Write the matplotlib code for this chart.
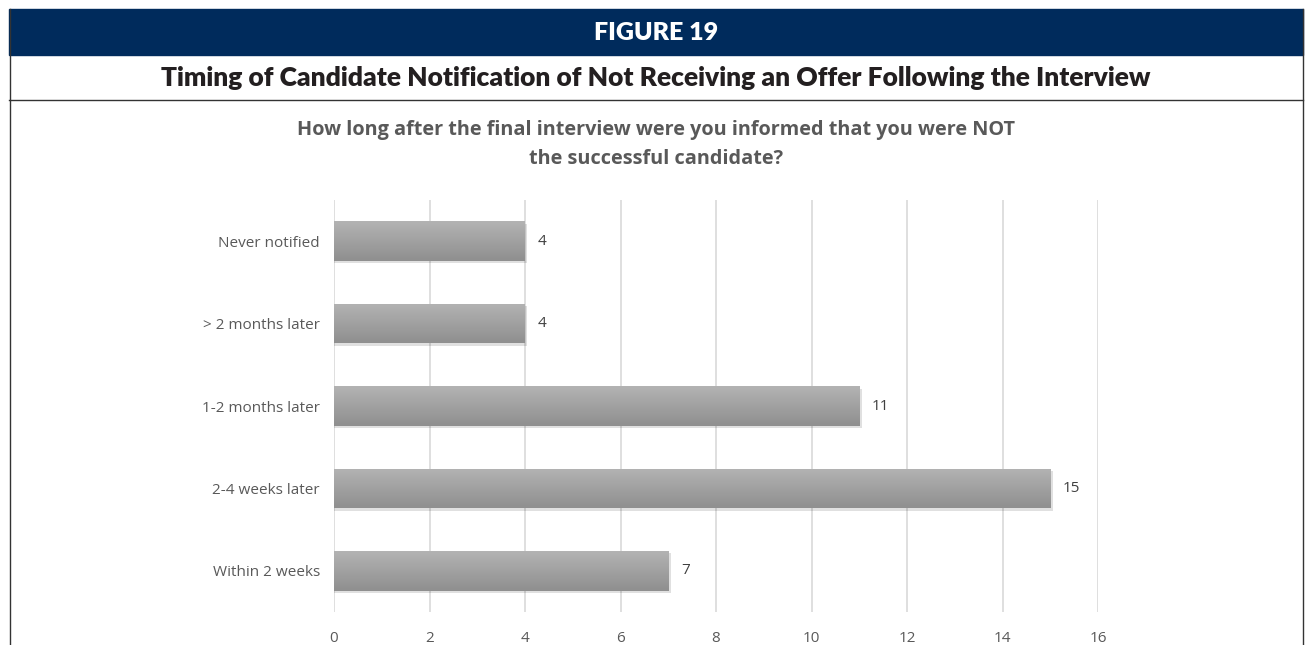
#!/usr/bin/env python
# -*- coding: utf-8 -*-
import numpy as np
import matplotlib
matplotlib.use("Agg")
import matplotlib.pyplot as plt
from matplotlib.patches import Rectangle

categories = ["Within 2 weeks", "2-4 weeks later", "1-2 months later",
              "> 2 months later", "Never notified"]
counts = [7, 15, 11, 4, 4]
xticks = [0, 2, 4, 6, 8, 10, 12, 14, 16]

W, H = 1306, 645
fig = plt.figure(figsize=(W / 100, H / 100), dpi=100)

# cabecera: banda azul, titulo, marco
navy = "#002b5c"
fig.patches.append(Rectangle((9 / W, 1 - 55 / H), (1303 - 9) / W, 46 / H,
                             transform=fig.transFigure, color=navy, zorder=0))
fig.text(656 / W, 1 - 33 / H, "FIGURE 19", color="white", fontsize=18,
         fontweight="heavy", family="Lato", ha="center", va="center")
fig.text(656 / W, 1 - 78 / H,
         "Timing of Candidate Notification of Not Receiving an Offer Following the Interview",
         color="#231f20", fontsize=19, fontweight="heavy", family="Lato",
         ha="center", va="center")
fig.lines.append(plt.Line2D([9 / W, 1303 / W], [1 - 100 / H, 1 - 100 / H],
                            transform=fig.transFigure, color="#333333", lw=1))
fig.lines.append(plt.Line2D([9.5 / W, 9.5 / W], [0, 1 - 9 / H],
                            transform=fig.transFigure, color="#333333", lw=1))
fig.lines.append(plt.Line2D([1303 / W, 1303 / W], [0, 1 - 9 / H],
                            transform=fig.transFigure, color="#333333", lw=1))

fig.text(656 / W, 1 - 130 / H, "How long after the final interview were you informed that you were NOT",
         color="#595959", fontsize=14.3, fontweight="bold", family="Open Sans",
         ha="center", va="center")
fig.text(656 / W, 1 - 159 / H, "the successful candidate?",
         color="#595959", fontsize=14.3, fontweight="bold", family="Open Sans",
         ha="center", va="center")

ax = fig.add_axes([334 / W, 1 - 612 / H, (1098 - 334) / W, (612 - 200) / H])
ax.set_xlim(0, 16)
ax.set_ylim(-0.5, len(categories) - 0.5)

y = np.arange(len(categories))
h = 0.48
grad = np.linspace(0, 1, 64).reshape(-1, 1)
cmap = matplotlib.colors.LinearSegmentedColormap.from_list("g", ["#8f8f8f", "#b3b3b3"])
for yi, v in zip(y, counts):
    # sombra
    ax.barh(yi - 0.03, v + 0.05, height=h, left=0.0, color="#000000",
            alpha=0.12, zorder=2, linewidth=0)
    bar = ax.barh(yi, v, height=h, color="#a6a6a6", zorder=3, linewidth=0)[0]
    im = ax.imshow(grad, extent=(0, v, yi - h / 2, yi + h / 2), aspect="auto",
                   cmap=cmap, origin="lower", zorder=4)
    im.set_clip_path(bar)
    ax.text(v + 0.27, yi, str(v), color="#404040", fontsize=11,
            family="Open Sans", va="center", ha="left")

ax.set_xticks(xticks)
ax.set_yticks(y)
ax.set_yticklabels(categories)
ax.grid(axis="x", color="#d9d9d9", lw=1.2, zorder=0)
ax.set_axisbelow(True)
for s in ax.spines.values():
    s.set_visible(False)
ax.tick_params(length=0, colors="#595959", labelsize=11)
ax.tick_params(axis="y", pad=10)
ax.tick_params(axis="x", pad=13.5)
for lab in ax.get_xticklabels() + ax.get_yticklabels():
    lab.set_family("Open Sans")

fig.savefig("out.png", dpi=100)
